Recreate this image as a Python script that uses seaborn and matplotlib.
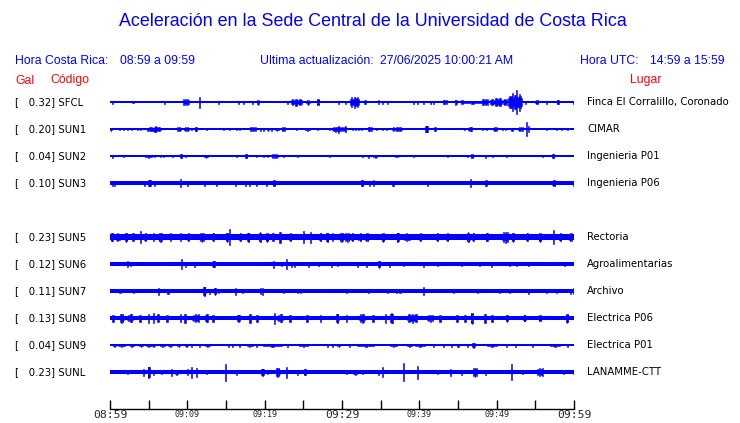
import numpy as np
import pandas as pd
import seaborn as sns
import matplotlib.pyplot as plt

# station code, peak (Gal), place, row index (row 4 is empty)
codes = ["SFCL", "SUN1", "SUN2", "SUN3", "SUN5", "SUN6", "SUN7", "SUN8", "SUN9", "SUNL"]
peaks = [0.32, 0.20, 0.04, 0.10, 0.23, 0.12, 0.11, 0.13, 0.04, 0.23]
places = ["Finca El Corralillo, Coronado", "CIMAR", "Ingenieria P01", "Ingenieria P06",
          "Rectoria", "Agroalimentarias", "Archivo", "Electrica P06", "Electrica P01",
          "LANAMME-CTT"]
rows = [0, 1, 2, 3, 5, 6, 7, 8, 9, 10]

# half-width of the quiet trace (pixels)
base = [0.6, 0.6, 0.6, 1.8, 3.0, 1.7, 1.6, 2.4, 0.6, 1.7]

# bursts: (minute after 08:59, half amplitude px, duration min)
sfcl = [(0.3, 1.5, 0.13), (3.0, 1.2, 0.3), (7.1, 1.5, 0.13), (9.8, 3.0, 0.8), (11.6, 5.5, 0.15),
        (14.0, 1.5, 0.13), (16.6, 1.5, 0.13), (17.3, 1.5, 0.13), (18.4, 1.5, 0.13), (19.1, 2.5, 0.3),
        (23.0, 1.5, 0.13), (24.1, 3.5, 1.5), (25.6, 2.5, 0.4), (26.9, 3.0, 0.35), (29.6, 1.5, 0.13),
        (30.4, 1.5, 0.13), (31.6, 5.5, 1.2), (33.0, 2.0, 0.2), (34.7, 2.0, 0.2), (35.3, 1.5, 0.13),
        (35.9, 1.5, 0.13), (39.2, 1.5, 0.13), (39.7, 1.5, 0.13), (40.5, 1.5, 0.13), (41.4, 1.5, 0.13),
        (41.8, 1.5, 0.13), (43.3, 2.0, 0.6), (44.7, 2.5, 0.3), (45.5, 2.0, 0.2), (46.9, 1.5, 2.6),
        (48.5, 3.0, 0.8), (49.9, 4.0, 1.6), (51.1, 3.0, 0.5), (52.4, 7.0, 1.8), (52.6, 12.0, 0.13),
        (52.0, 9.0, 0.13), (53.0, 8.5, 0.13), (53.7, 1.5, 0.13), (55.2, 2.0, 0.4), (56.5, 1.5, 0.13),
        (57.9, 2.0, 0.3), (59.9, 1.5, 0.13)]
sun1 = [(0.1, 1.5, 0.3), (1.2, 1.0, 0.13), (1.7, 1.0, 0.13), (2.2, 1.0, 0.13), (2.8, 1.0, 0.13),
        (3.5, 1.0, 0.13), (3.9, 1.0, 0.13), (4.8, 1.5, 0.13), (5.8, 2.5, 1.7), (5.9, 3.0, 0.13),
        (8.9, 2.0, 0.5), (9.9, 2.0, 0.6), (10.5, 1.0, 0.13), (11.1, 2.0, 0.3), (12.5, 1.0, 0.13),
        (14.7, 1.0, 0.13), (15.4, 1.0, 0.13), (16.4, 1.0, 0.13), (16.8, 1.0, 0.13), (18.5, 2.0, 0.8),
        (19.4, 1.5, 0.13), (19.9, 1.5, 0.13), (20.4, 1.5, 0.3), (20.9, 1.5, 0.13), (21.6, 1.5, 0.4),
        (22.4, 2.0, 0.4), (24.1, 1.0, 0.13), (25.5, 1.5, 0.6), (26.8, 1.0, 0.13), (28.4, 1.0, 0.13),
        (29.2, 2.5, 1.0), (29.5, 3.5, 0.13), (30.1, 2.0, 0.8), (30.4, 3.0, 0.13), (31.4, 1.0, 0.13),
        (31.8, 1.0, 0.13), (32.1, 1.0, 0.13), (32.5, 1.0, 0.13), (33.6, 2.0, 0.6), (34.5, 1.0, 0.13),
        (35.3, 1.0, 0.13), (35.8, 1.0, 0.13), (37.1, 2.0, 1.3), (40.9, 3.0, 0.4), (42.0, 2.0, 0.2),
        (45.9, 1.0, 0.13), (46.6, 2.0, 0.5), (48.2, 1.0, 0.13), (48.7, 1.0, 0.13), (49.8, 2.0, 0.5),
        (50.8, 1.0, 0.13), (51.1, 1.0, 0.13), (52.0, 1.5, 0.2), (53.1, 2.0, 0.6), (53.8, 7.0, 0.13),
        (54.1, 3.0, 0.2), (56.5, 1.0, 0.13), (57.8, 1.0, 0.13), (58.4, 1.0, 0.13), (59.1, 1.0, 0.13)]
sun2 = [(0.3, 1.5, 0.2), (1.8, 1.0, 0.13), (5.0, 1.5, 0.9), (5.8, 1.0, 0.13), (6.5, 1.0, 0.13),
        (6.9, 1.0, 0.13), (8.1, 1.0, 0.13), (9.2, 2.0, 0.3), (9.7, 1.0, 0.13), (12.4, 1.5, 0.5),
        (16.4, 1.0, 0.13), (17.6, 2.0, 0.3), (19.0, 1.0, 0.13), (19.8, 1.0, 0.13), (20.4, 1.0, 0.13),
        (21.3, 2.0, 0.8), (22.4, 1.0, 0.13), (24.2, 1.0, 0.13), (28.4, 1.0, 0.13), (32.6, 1.0, 0.13),
        (33.4, 1.5, 0.13), (34.3, 1.5, 0.5), (36.9, 1.0, 0.13), (37.2, 1.0, 0.13), (39.2, 1.0, 0.13),
        (43.6, 1.0, 0.13), (46.2, 1.0, 0.13), (46.8, 2.0, 0.3), (48.6, 1.5, 0.13), (49.5, 1.0, 0.13),
        (51.3, 1.0, 0.13), (55.9, 1.0, 0.13), (57.3, 2.0, 0.3)]
sun3 = [(0.3, 2.5, 0.13), (0.6, 2.5, 0.13), (4.5, 2.5, 0.13), (5.1, 3.0, 0.4), (5.8, 2.5, 0.13),
        (9.1, 4.0, 0.13), (10.0, 2.5, 0.13), (12.2, 2.5, 0.13), (13.8, 2.5, 0.13), (16.2, 2.5, 0.13),
        (17.5, 2.5, 0.13), (18.0, 2.5, 0.13), (19.0, 2.5, 0.13), (20.3, 2.5, 0.13), (21.2, 3.0, 0.3),
        (32.6, 3.0, 0.3), (33.5, 2.5, 0.13), (34.1, 3.0, 0.2), (36.5, 2.5, 0.13), (36.7, 2.5, 0.13),
        (41.0, 2.5, 0.13), (46.6, 4.0, 0.13), (48.6, 3.0, 0.2), (57.4, 3.0, 0.4), (59.9, 2.5, 0.13)]
sun5 = [(0.2, 4.0, 0.3), (1.0, 3.8, 0.6), (2.1, 4.5, 0.3), (3.0, 4.0, 0.2), (3.9, 6.0, 0.13),
        (4.5, 4.0, 0.4), (5.6, 4.0, 0.2), (6.5, 4.5, 0.5), (7.8, 4.0, 0.2), (9.1, 4.0, 0.2),
        (10.1, 4.0, 0.3), (11.9, 4.5, 0.5), (13.3, 4.0, 0.3), (15.1, 4.5, 0.3), (15.4, 8.0, 0.13),
        (16.8, 4.0, 0.3), (17.9, 4.5, 0.3), (19.4, 5.0, 0.3), (20.3, 4.5, 0.3), (21.1, 4.0, 0.2),
        (22.0, 5.5, 0.2), (23.3, 4.0, 0.3), (25.0, 6.0, 0.2), (25.9, 5.5, 0.2), (27.2, 4.0, 0.3),
        (28.1, 4.5, 0.3), (28.8, 4.0, 0.2), (29.9, 4.5, 0.5), (30.7, 4.5, 0.6), (31.3, 4.0, 0.3),
        (32.3, 4.0, 0.4), (33.2, 4.0, 0.4), (35.3, 4.5, 0.3), (37.2, 4.5, 0.3), (38.4, 3.6, 0.8),
        (40.1, 4.0, 0.3), (42.3, 4.0, 0.3), (43.6, 4.0, 0.3), (46.3, 5.0, 0.4), (46.9, 4.0, 0.3),
        (48.7, 4.0, 0.3), (51.1, 5.5, 0.8), (52.1, 4.5, 0.3), (53.9, 4.0, 0.3), (55.6, 4.5, 0.3),
        (57.3, 7.0, 0.15), (58.2, 4.0, 0.4), (59.5, 4.0, 0.5)]
sun6 = [(2.2, 3.0, 0.13), (2.7, 2.0, 0.13), (9.3, 5.0, 0.13), (9.7, 2.5, 0.13), (10.9, 2.5, 0.13),
        (13.4, 3.0, 0.3), (21.2, 3.5, 0.13), (22.2, 2.0, 0.13), (22.8, 5.0, 0.2), (23.5, 2.5, 0.13),
        (23.8, 2.5, 0.13), (25.7, 2.5, 0.13), (26.9, 2.0, 0.13), (28.7, 2.5, 0.13), (29.4, 2.0, 0.13),
        (32.0, 2.5, 0.2), (33.2, 2.5, 0.13), (34.8, 3.5, 0.3), (36.1, 2.5, 0.13), (38.0, 2.0, 0.13),
        (40.6, 2.5, 0.13), (42.3, 2.0, 0.13), (45.5, 2.0, 0.13), (47.8, 2.0, 0.13), (49.3, 2.5, 0.13),
        (51.7, 2.0, 0.13), (52.6, 2.0, 0.13), (54.1, 2.0, 0.13), (58.8, 2.0, 0.13)]
sun7 = [(1.3, 2.0, 0.3), (3.0, 2.0, 0.13), (6.3, 3.5, 0.13), (7.5, 2.5, 0.13), (12.2, 4.5, 0.3),
        (12.9, 2.5, 0.13), (13.6, 3.5, 0.3), (14.0, 2.0, 0.13), (16.2, 3.5, 0.13), (17.1, 2.0, 0.13),
        (19.4, 3.0, 0.13), (19.7, 3.5, 0.13), (22.4, 2.0, 0.13), (24.2, 2.0, 0.13), (24.6, 2.0, 0.13),
        (30.6, 2.0, 0.13), (33.4, 2.0, 0.13), (35.9, 2.0, 0.13), (37.1, 2.0, 0.13), (37.5, 2.0, 0.13),
        (40.6, 4.0, 0.13), (44.4, 2.0, 0.13), (47.5, 2.0, 0.13), (50.4, 2.0, 0.13), (51.7, 2.0, 0.13),
        (54.1, 2.5, 0.13), (56.5, 2.0, 0.13), (57.8, 2.0, 0.13), (59.5, 2.5, 0.13), (59.9, 3.0, 0.13)]
sun8 = [(0.4, 3.5, 0.2), (1.5, 4.5, 0.5), (2.6, 4.0, 0.7), (3.9, 3.5, 0.2), (5.0, 4.5, 0.2),
        (5.6, 5.0, 0.2), (6.2, 4.0, 0.2), (7.4, 3.5, 0.2), (9.1, 4.0, 0.2), (9.7, 4.5, 0.2),
        (11.1, 4.0, 0.9), (12.5, 4.0, 0.4), (13.3, 3.5, 0.2), (16.6, 3.5, 0.4), (18.1, 4.5, 0.2),
        (19.0, 3.5, 0.2), (21.3, 5.5, 0.13), (22.0, 4.0, 0.7), (23.3, 3.5, 0.2), (25.5, 3.5, 0.2),
        (27.2, 3.5, 0.2), (29.4, 4.5, 0.3), (30.6, 3.5, 0.2), (32.6, 4.5, 0.7), (34.0, 3.5, 0.2),
        (35.6, 4.5, 0.2), (36.4, 5.0, 0.4), (39.1, 4.5, 1.3), (41.4, 3.5, 0.8), (42.7, 3.5, 0.2),
        (44.9, 3.5, 0.2), (45.9, 3.5, 0.2), (46.8, 5.5, 0.3), (48.5, 4.5, 0.2), (49.4, 3.5, 0.2),
        (51.3, 3.5, 0.3), (53.6, 3.2, 0.3), (55.6, 3.2, 0.3), (59.1, 4.5, 0.3)]
sun9 = [(0.6, 1.5, 0.4), (1.5, 1.5, 0.9), (2.8, 1.5, 0.5), (4.0, 1.5, 0.6), (5.0, 1.5, 0.6),
        (5.6, 1.5, 0.5), (6.8, 1.5, 0.6), (7.8, 1.5, 0.5), (8.9, 1.5, 0.4), (9.9, 1.5, 0.4),
        (10.6, 1.5, 0.13), (11.6, 1.5, 0.13), (12.6, 1.5, 0.6), (15.3, 1.5, 0.13), (15.8, 1.5, 0.13),
        (16.8, 1.5, 0.13), (18.1, 1.5, 0.8), (19.0, 1.5, 0.13), (21.0, 1.5, 2.5), (23.0, 1.5, 0.13),
        (25.0, 1.5, 1.2), (28.1, 1.5, 0.13), (28.8, 1.5, 0.13), (29.6, 1.5, 0.4), (31.0, 1.5, 0.13),
        (33.1, 1.5, 2.2), (36.7, 1.5, 0.9), (38.7, 1.5, 0.6), (40.1, 1.5, 1.2), (41.8, 1.5, 0.13),
        (43.1, 1.5, 0.13), (44.2, 1.5, 0.13), (45.0, 1.5, 0.13), (46.2, 1.5, 0.13), (47.0, 2.5, 0.4),
        (49.4, 1.5, 1.3), (51.3, 1.5, 0.13), (52.4, 1.5, 0.13), (54.6, 1.5, 0.13), (57.5, 1.5, 1.3),
        (59.1, 1.5, 0.13)]
sunl = [(2.2, 2.0, 0.13), (4.3, 3.5, 0.13), (5.0, 5.5, 0.3), (5.6, 2.5, 0.13), (6.7, 2.0, 0.13),
        (8.0, 3.5, 0.13), (8.6, 2.5, 0.4), (10.0, 3.0, 0.2), (10.6, 5.5, 0.13), (11.2, 4.5, 0.13),
        (12.5, 2.0, 0.13), (14.9, 8.5, 0.13), (16.4, 2.5, 0.13), (19.7, 3.5, 0.4), (20.4, 2.0, 0.13),
        (21.7, 4.5, 0.5), (22.8, 5.5, 0.13), (24.3, 2.5, 0.13), (25.2, 3.0, 0.3), (30.6, 2.0, 0.13),
        (31.7, 2.5, 0.6), (32.7, 2.0, 0.13), (34.7, 2.5, 0.13), (35.3, 5.0, 0.13), (37.9, 9.0, 0.13),
        (39.8, 6.5, 0.13), (42.4, 2.0, 0.13), (44.0, 3.5, 0.13), (45.5, 2.5, 0.13), (47.2, 4.5, 0.5),
        (48.6, 2.5, 0.13), (51.9, 8.0, 0.13), (53.3, 2.0, 0.13), (55.6, 4.0, 0.8), (58.6, 2.0, 0.13),
        (59.9, 2.0, 0.13)]
bursts = [sfcl, sun1, sun2, sun3, sun5, sun6, sun7, sun8, sun9, sunl]

tick_minutes = list(range(0, 61, 5))
tick_labels = ["08:59", "", "09:09", "", "09:19", "", "09:29", "", "09:39", "", "09:49", "", "09:59"]

BLUE = "#0000ff"
RED = "#ff0000"
ROW_PX = 27
# ragged outline used to draw the longer bursts (fraction of the burst peak)
RAGGED = [0.55, 0.85, 0.6, 1.0, 0.7, 0.9, 0.55]

sns.set_theme(style="white")
plt.rcParams["font.family"] = ["DejaVu Sans"]

fig = plt.figure(figsize=(7.4, 4.23), dpi=100)
# vertical data units are pixels; the top row sits 12 px below the axes top
ax = fig.add_axes([110 / 740, 14 / 423, 464 / 740, 319 / 423])
ax.set_xlim(0, 60)
ax.set_ylim(-307, 12)

for code, b, r, bl in zip(codes, base, rows, bursts):
    y0 = -ROW_PX * r
    ax.fill_between([0, 60], y0 - b, y0 + b, color=BLUE, lw=0)
    df = pd.DataFrame(bl, columns=["t", "amp", "dur"])
    short = df[df.dur <= 0.2]
    ax.bar(short["t"], 2 * short["amp"], width=short["dur"], bottom=y0 - short["amp"],
           color=BLUE, edgecolor=BLUE, linewidth=0.4)
    for t, a, d in df[df.dur > 0.2].itertuples(index=False):
        xs = np.linspace(t - d / 2, t + d / 2, len(RAGGED))
        env = np.array(RAGGED) * a
        ax.fill_between(xs, y0 - env, y0 + env, step="mid",
                        color=BLUE, edgecolor=BLUE, lw=0.4)

for code, pk, place, r in zip(codes, peaks, places, rows):
    ypx = 102 + ROW_PX * r
    fig.text(15 / 740, 1 - ypx / 423, f"[   {pk:.2f}] {code}", fontsize=7.3,
             va="center", ha="left", color="black")
    fig.text(587 / 740, 1 - ypx / 423, place, fontsize=7.3,
             va="center", ha="left", color="black")

for s in ["top", "left", "right"]:
    ax.spines[s].set_visible(False)
ax.spines["bottom"].set_color("black")
ax.spines["bottom"].set_linewidth(1)
ax.set_yticks([])
ax.set_xticks(tick_minutes)
ax.set_xticklabels(tick_labels, family="DejaVu Sans Mono")
ax.tick_params(axis="x", direction="in", length=6.5, width=1, color="black", pad=0.5,
               bottom=True)
for lab, m in zip(ax.get_xticklabels(), tick_minutes):
    lab.set_fontsize(8.2 if m in (0, 30, 60) else 6)
ax.patch.set_alpha(0)

hdr = dict(fontsize=8.8, family="Liberation Sans", va="center", ha="left")
fig.text(373 / 740, 1 - 22 / 423, "Aceleración en la Sede Central de la Universidad de Costa Rica",
         fontsize=12.85, family="Liberation Sans", color=BLUE, ha="center", va="center")
fig.text(15 / 740, 1 - 60.5 / 423, "Hora Costa Rica:", color=BLUE, **hdr)
fig.text(120 / 740, 1 - 60.5 / 423, "08:59 a 09:59", color=BLUE, **hdr)
fig.text(260 / 740, 1 - 60.5 / 423, "Ultima actualización:", color=BLUE, **hdr)
fig.text(380 / 740, 1 - 60.5 / 423, "27/06/2025 10:00:21 AM", color=BLUE, **hdr)
fig.text(580 / 740, 1 - 60.5 / 423, "Hora UTC:", color=BLUE, **hdr)
fig.text(650 / 740, 1 - 60.5 / 423, "14:59 a 15:59", color=BLUE, **hdr)
fig.text(15 / 740, 1 - 80.5 / 423, "Gal", color=RED, **hdr)
fig.text(50 / 740, 1 - 80.5 / 423, "Código", color=RED, **hdr)
fig.text(630 / 740, 1 - 80.5 / 423, "Lugar", color=RED, **hdr)

fig.savefig("out.png", dpi=100, facecolor="white")
